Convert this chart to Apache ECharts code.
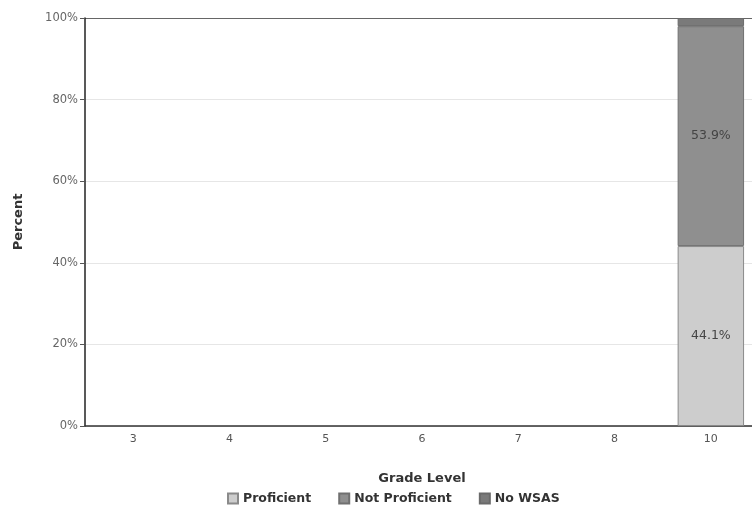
<!DOCTYPE html>
<html><head><meta charset="utf-8">
<script src="https://cdn.jsdelivr.net/npm/echarts@6/dist/echarts.min.js"></script>
<style>html,body{margin:0;padding:0;background:#fff}#c{width:752px;height:514px}</style>
</head><body><div id="c"></div>
<script>
const categories = ['3','4','5','6','7','8','10'];
const proficient = [null,null,null,null,null,null,44.1];
const notProficient = [null,null,null,null,null,null,53.9];
const noWSAS = [null,null,null,null,null,null,2.0];
const yTicks = [0,20,40,60,80,100];

const chart = echarts.init(document.getElementById('c'));
const lbl = {show:true, position:'inside', formatter:p=>p.value.toFixed(1)+'%', color:'#444', fontSize:12.5, fontFamily:'DejaVu Sans'};
chart.setOption({
  animation:false,
  grid:{left:85,width:674,top:18,bottom:88,outerBoundsMode:'none',containLabel:false},
  legend:{bottom:4,left:222,itemWidth:10,itemHeight:10,itemGap:27,icon:'rect',
    textStyle:{fontWeight:'bold',fontSize:12.5,color:'#333',fontFamily:'DejaVu Sans'},
    data:['Proficient','Not Proficient','No WSAS']},
  xAxis:{type:'category',data:categories,name:'Grade Level',nameLocation:'middle',nameGap:46,
    nameTextStyle:{fontWeight:'bold',fontSize:13,color:'#333',fontFamily:'DejaVu Sans'},
    axisLine:{lineStyle:{color:'#333',width:1.5}},
    axisTick:{alignWithLabel:true,length:5,lineStyle:{color:'#444'}},
    axisLabel:{color:'#555',fontSize:11,margin:8,fontFamily:'DejaVu Sans'}},
  yAxis:{type:'value',min:0,max:100,interval:20,name:'Percent',nameLocation:'middle',nameGap:60,
    nameTextStyle:{fontWeight:'bold',fontSize:13,color:'#333',fontFamily:'DejaVu Sans'},
    axisLine:{show:true,lineStyle:{color:'#222',width:1.5}},
    axisTick:{show:true,length:5,lineStyle:{color:'#555'}},
    axisLabel:{color:'#666',fontSize:11.5,margin:7,formatter:v=>v+'%',fontFamily:'DejaVu Sans'},
    splitLine:{show:true,lineStyle:{color:yTicks.map((t,i)=>i===yTicks.length-1?'#666':'#e6e6e6'),width:1}}},
  series:[
    {name:'Proficient',type:'bar',stack:'a',data:proficient,barWidth:'69%',label:lbl,
     itemStyle:{color:'#cdcdcd',borderColor:'#8a8a8a',borderWidth:1}},
    {name:'Not Proficient',type:'bar',stack:'a',data:notProficient,label:lbl,
     itemStyle:{color:'#8f8f8f',borderColor:'#707070',borderWidth:1}},
    {name:'No WSAS',type:'bar',stack:'a',data:noWSAS,
     itemStyle:{color:'#7a7a7a',borderColor:'#6a6a6a',borderWidth:1}}
  ]
});
</script></body></html>
